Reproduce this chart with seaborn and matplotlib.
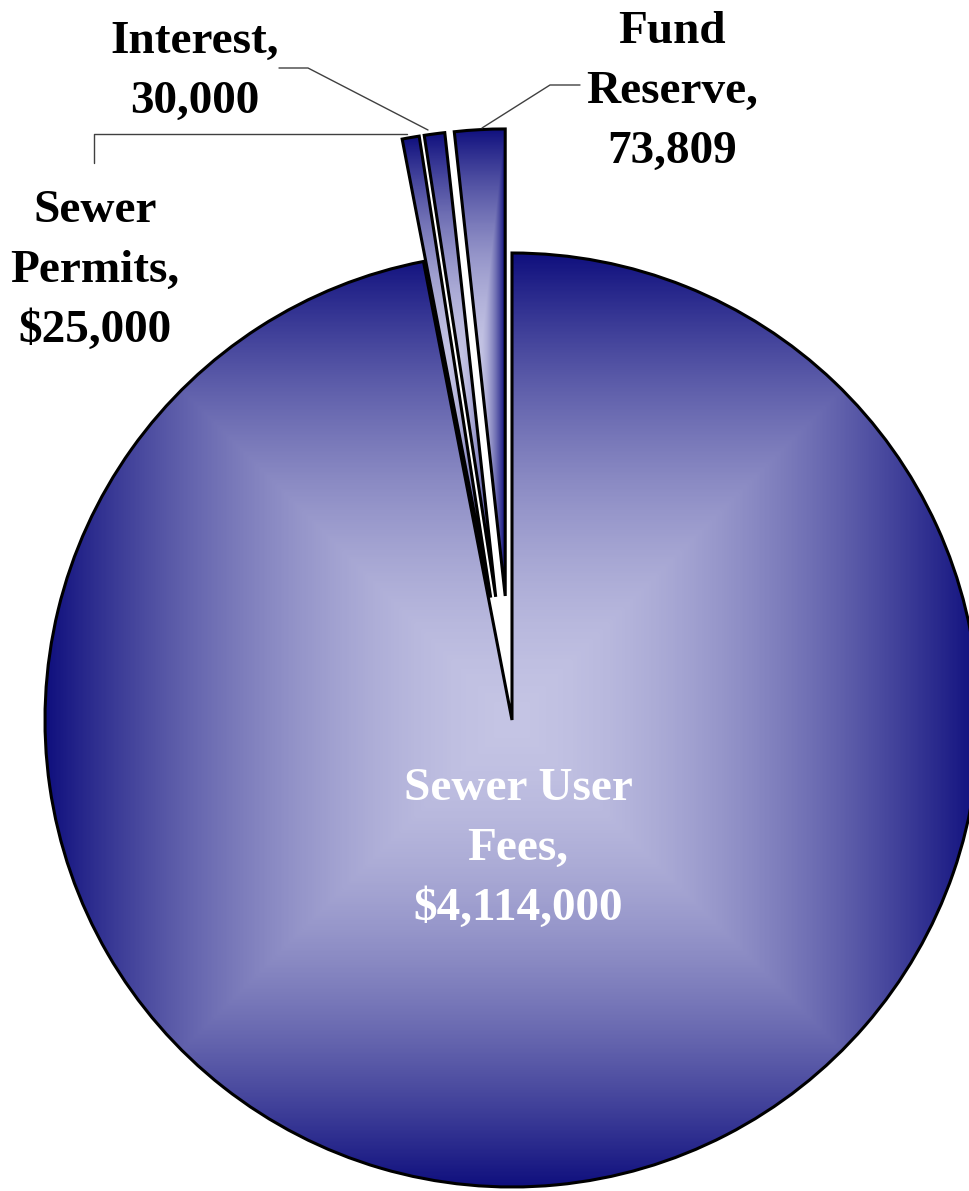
import numpy as np
import matplotlib
matplotlib.use("Agg")
import matplotlib.pyplot as plt
import seaborn as sns

# 하수도 세입 구성
categories = ["Sewer User Fees", "Sewer Permits", "Interest", "Fund Reserve"]
values = [4114000, 25000, 30000, 73809]
label_texts = ["Sewer User\nFees,\n$4,114,000", "Sewer\nPermits,\n$25,000",
               "Interest,\n30,000", "Fund\nReserve,\n73,809"]
explode_frac = [0, 0.266, 0.266, 0.266]

sns.set_style("white")
plt.rcParams['font.family'] = ['Liberation Serif', 'DejaVu Serif']

W, H = 970, 1191
R = 467
fig = plt.figure(figsize=(W / 100, H / 100), dpi=100)
ax = fig.add_axes([0, 0, 1, 1])

# 가장자리는 진한 남색, 중앙은 연보라
cmap = sns.blend_palette(["#c4c4e4", "#10107e"], as_cmap=True)

# matplotlib의 explode는 데이터 단위라서 반지름을 곱해줌
wedges, _ = ax.pie(values, explode=[e * R for e in explode_frac],
                   startangle=-90, counterclock=True,
                   center=(512, 720), radius=R,
                   wedgeprops=dict(facecolor='none', edgecolor='black', linewidth=2.2))


def wedge_bbox(w):
    cx, cy = w.center
    r = w.r
    angs = [w.theta1, w.theta2]
    for a in range(-360, 721, 90):
        if w.theta1 < a < w.theta2:
            angs.append(a)
    xs = [cx] + [cx + r * np.cos(np.radians(a)) for a in angs]
    ys = [cy] + [cy + r * np.sin(np.radians(a)) for a in angs]
    return min(xs), max(xs), min(ys), max(ys)


# 조각마다 사각형 그라데이션 채우기
for w in wedges:
    x0, x1, y0, y1 = wedge_bbox(w)
    u = np.linspace(-1, 1, 300)
    v = np.linspace(-1, 1, 300)
    U, V = np.meshgrid(u, v)
    t = np.maximum(np.abs(U), np.abs(V)) ** 1.7
    im = ax.imshow(t, cmap=cmap, vmin=0, vmax=1, extent=(x0, x1, y1, y0),
                   interpolation='bilinear', zorder=0.5)
    im.set_clip_path(w)
    w.set_zorder(1)

# 라벨
label_pos = [(518, 849), (95, 271), (195, 72), (672, 92)]
label_colors = ['white', 'black', 'black', 'black']
for txt, (x, y), c in zip(label_texts, label_pos, label_colors):
    ax.text(x, y, txt, ha='center', va='center', fontsize=34, fontweight='bold',
            color=c, linespacing=1.55, zorder=3)

# 지시선
leaders = [
    ([94, 94, 407], [163, 134, 134]),
    ([279, 308, 428], [68, 68, 130]),
    ([580, 550, 482], [85, 85, 128]),
]
for xs, ys in leaders:
    ax.plot(xs, ys, color='#404040', linewidth=1, zorder=2)

ax.set_xlim(0, W)
ax.set_ylim(H, 0)
ax.set_aspect('equal')
ax.axis('off')

fig.savefig('out.png', dpi=100)
